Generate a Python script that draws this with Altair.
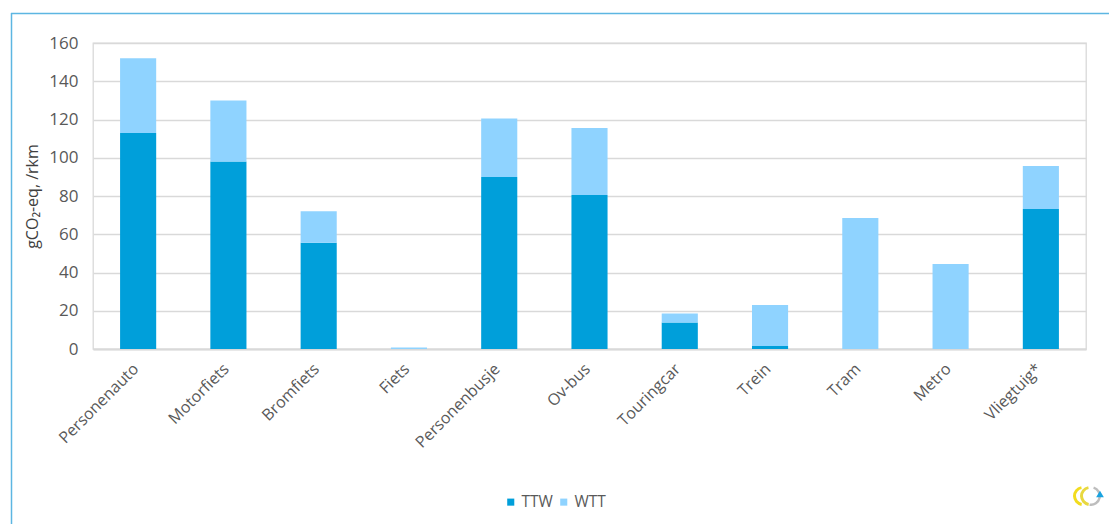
import altair as alt
import pandas as pd

# Well-to-wheel emissions per traveller-kilometre, split into tank-to-wheel and well-to-tank
modes = ["Personenauto", "Motorfiets", "Bromfiets", "Fiets", "Personenbusje", "Ov-bus",
         "Touringcar", "Trein", "Tram", "Metro", "Vliegtuig*"]
ttw = [113, 98, 55.5, 0, 90, 80.5, 13.8, 1.6, 0, 0, 73.2]
wtt = [39, 32, 16.5, 0.8, 30.5, 35, 4.7, 21.4, 68.5, 44.4, 22.5]
series = ["TTW", "WTT"]
colors = ["#009FDA", "#8FD3FF"]
y_ticks = [0, 20, 40, 60, 80, 100, 120, 140, 160]

rows = []
for m, a, b in zip(modes, ttw, wtt):
    rows.append({"mode": m, "part": "TTW", "order": 0, "value": a})
    rows.append({"mode": m, "part": "WTT", "order": 1, "value": b})
df = pd.DataFrame(rows)

FONT = "Open Sans"
GREY = "#595959"
W, H = 993, 306
PAD_L, PAD_T = 93, 43

bars = alt.Chart(df).mark_bar().encode(
    x=alt.X("mode:N", sort=modes, title=None,
            scale=alt.Scale(paddingInner=0.6, paddingOuter=0.3),
            axis=alt.Axis(labelAngle=-45, labelAlign="right", labelBaseline="middle",
                          labelFontSize=16, labelColor=GREY, labelFont=FONT,
                          labelPadding=17, labelOffset=-2, ticks=False,
                          domainColor="#D9D9D9", domainWidth=2, labelOverlap=False)),
    y=alt.Y("value:Q", stack="zero", title="gCO\u2082-eq, /rkm",
            scale=alt.Scale(domain=[0, 160], nice=False),
            axis=alt.Axis(values=y_ticks, labelFontSize=17, labelColor=GREY,
                          labelFont=FONT, labelPadding=15, ticks=False, domain=False,
                          gridColor="#D9D9D9", gridWidth=1.3,
                          titleFont=FONT, titleFontSize=16, titleFontWeight="normal",
                          titleColor="#404040", titlePadding=8)),
    color=alt.Color("part:N", sort=series,
                    scale=alt.Scale(domain=series, range=colors),
                    legend=alt.Legend(title=None, orient="none", direction="horizontal",
                                      legendX=410, legendY=451, symbolType="square",
                                      symbolSize=50, symbolStrokeWidth=0,
                                      labelFont=FONT, labelFontSize=15.5, labelColor=GREY,
                                      columnPadding=3, labelOffset=3)),
    order=alt.Order("order:Q"),
)

# outer frame of the figure (top and left edges)
frame_top = alt.Chart().mark_rule(color="#5DB6E2", strokeWidth=1.5).encode(
    x=alt.value(11 - PAD_L), x2=alt.value(1109 - PAD_L), y=alt.value(13.5 - PAD_T))
frame_left = alt.Chart().mark_rule(color="#5DB6E2", strokeWidth=1.5).encode(
    x=alt.value(11.5 - PAD_L), y=alt.value(13 - PAD_T), y2=alt.value(524 - PAD_T))

# small logo in the lower right corner
lx, ly = 1083 - PAD_L, 496 - PAD_T
logo_y1 = alt.Chart().mark_arc(color="#F2DC1E", radius=10, radius2=7, theta=3.3, theta2=6.1).encode(
    x=alt.value(lx), y=alt.value(ly))
logo_y2 = alt.Chart().mark_arc(color="#E8D840", radius=10, radius2=7, theta=3.3, theta2=6.1).encode(
    x=alt.value(lx + 7), y=alt.value(ly))
logo_g = alt.Chart().mark_arc(color="#BDBDBD", radius=10, radius2=7.5, theta=0.3, theta2=3.3).encode(
    x=alt.value(lx + 8), y=alt.value(ly))
logo_tri = alt.Chart().mark_point(shape="triangle-up", filled=True, color="#1AA3E0", size=60, opacity=1).encode(
    x=alt.value(lx + 17), y=alt.value(ly - 2))

chart = alt.layer(bars, frame_top, frame_left, logo_y1, logo_y2, logo_g, logo_tri).properties(
    width=W, height=H,
    autosize=alt.AutoSizeParams(type="none"),
    padding={"left": PAD_L, "top": PAD_T, "right": 1109 - PAD_L - W, "bottom": 524 - PAD_T - H},
    background="white",
).configure_view(stroke="#D9D9D9", strokeWidth=1.3)

chart.save("out.html", embed_options={"renderer": "svg", "actions": False})
